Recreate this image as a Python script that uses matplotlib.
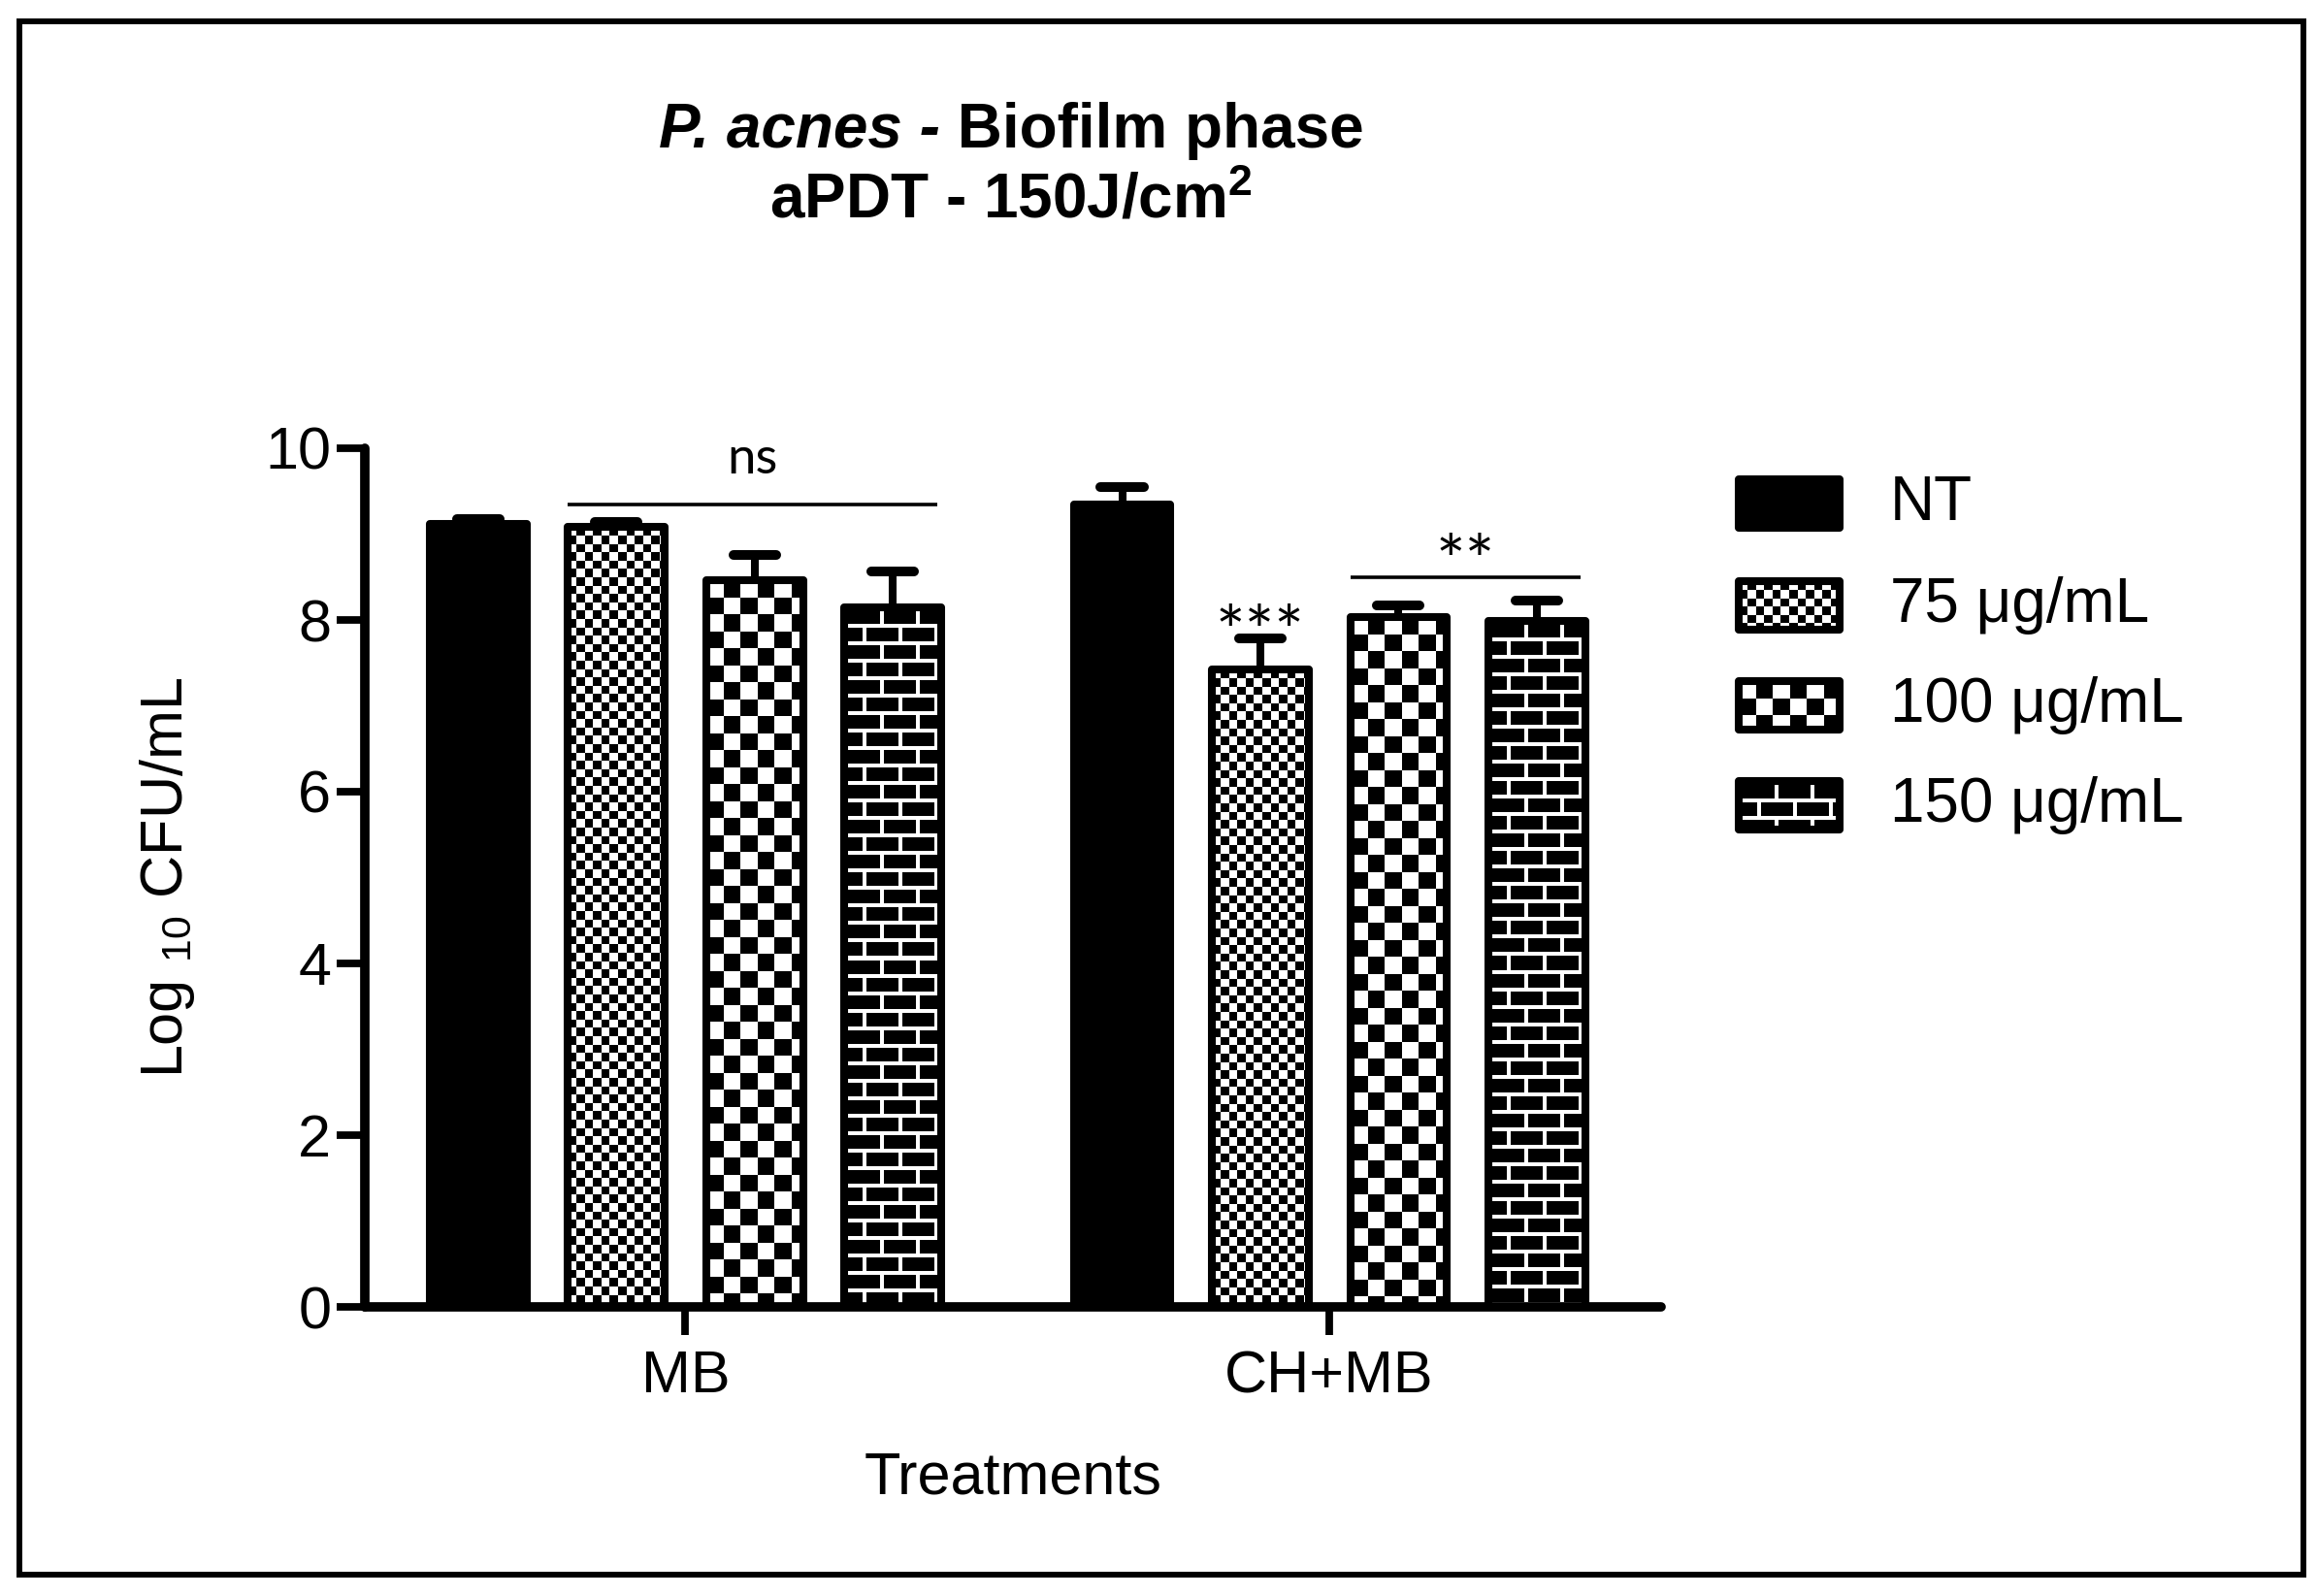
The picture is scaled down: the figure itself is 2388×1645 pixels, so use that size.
import numpy as np
import matplotlib
matplotlib.use("Agg")
import matplotlib.pyplot as plt
from matplotlib.patches import Rectangle
from matplotlib.textpath import TextPath
from matplotlib.font_manager import FontProperties

plt.rcParams['font.family'] = ['Liberation Sans', 'DejaVu Sans']
plt.rcParams['mathtext.fontset'] = 'custom'
plt.rcParams['mathtext.rm'] = 'Liberation Sans'
plt.rcParams['mathtext.it'] = 'Liberation Sans:italic'
plt.rcParams['mathtext.bf'] = 'Liberation Sans:bold'

# ---------------- data ----------------
groups = ["MB", "CH+MB"]
series = ["NT", "75 \u03bcg/mL", "100 \u03bcg/mL", "150 \u03bcg/mL"]
means_mb = [9.12, 9.08, 8.46, 8.15]
err_mb = [0.05, 0.06, 0.30, 0.42]
means_chmb = [9.35, 7.42, 8.03, 7.99]
err_chmb = [0.20, 0.37, 0.14, 0.24]
fills = ["solid", "fine", "coarse", "brick"]
yticks = [0, 2, 4, 6, 8, 10]
# significance brackets: (group, first bar, last bar, label, line y, label centre y)
sig_brackets = [(0, 1, 3, "ns", 9.34, 9.86), (1, 2, 3, "**", 8.50, 8.89)]
# single-bar marks: (group, bar, label, label centre y)
sig_single = [(1, 1, "***", 8.07)]

W, H = 2388, 1645
DPI = 100
fig = plt.figure(figsize=(W / DPI, H / DPI), dpi=DPI)

ax_l, ax_r = 376 / W, 1712 / W
ax_b, ax_t = (H - 1347) / H, (H - 462) / H
ax = fig.add_axes([ax_l, ax_b, ax_r - ax_l, ax_t - ax_b])
XLIM = (0, 9.38)
ax.set_xlim(*XLIM)
ax.set_ylim(0, 10)

group_centers = [2.32, 6.98]
bw = 0.7
px_x = (ax_r - ax_l) * W / (XLIM[1] - XLIM[0])
px_y = (ax_t - ax_b) * H / 10.0


def make_pattern(kind, h, w):
    i = np.arange(h)[:, None]
    j = np.arange(w)[None, :]
    if kind == "fine":
        c = 8.6
        white = ((np.floor(i / c) + np.floor(j / c)) % 2 == 0)
    elif kind == "coarse":
        c = 17.5
        white = ((np.floor(i / c) + np.floor(j / c)) % 2 == 0)
    else:  # brick
        rh, blen, m = 18, 37, 4
        row = i // rh
        off = (row % 2) * (blen // 2)
        white = np.broadcast_to((i % rh) < m, (h, w)) | (((j + off) % blen) < m)
    return np.where(white, 1.0, 0.0)


SIG_FONT = ["Lato", "DejaVu Sans"]


def baseline_for_centre(s, size, yc):
    tp = TextPath((0, 0), s, size=size, prop=FontProperties(family=SIG_FONT))
    ext = tp.get_extents()
    off_pts = (ext.y0 + ext.y1) / 2
    return yc - off_pts * DPI / 72 / px_y


EDGE_LW = 5.8
all_means = [means_mb, means_chmb]
all_errs = [err_mb, err_chmb]
bar_x = {}
for g, gc in enumerate(group_centers):
    for k in range(4):
        x = gc + (k - 1.5) * 1.0
        bar_x[(g, k)] = x
        v = all_means[g][k]
        e = all_errs[g][k]
        fc = "black" if fills[k] == "solid" else "none"
        bars = ax.bar([x], [v], width=bw, facecolor=fc, edgecolor="black",
                      linewidth=EDGE_LW, joinstyle="round", zorder=3)
        rect = bars[0]
        if fills[k] != "solid":
            arr = make_pattern(fills[k], int(round(v * px_y)), int(round(bw * px_x)))
            im = ax.imshow(arr, cmap="gray", vmin=0, vmax=1, interpolation="nearest",
                           extent=(x - bw / 2, x + bw / 2, 0, v), aspect="auto", zorder=2)
            im.set_clip_path(rect)
        # error bar (upper only)
        ax.vlines([x], [v], [v + e], colors="black", linewidth=5.8, zorder=4)
        cw = 0.31
        caps = ax.hlines([v + e], [x - cw / 2], [x + cw / 2], colors="black",
                         linewidth=7.2, zorder=4)
        caps.set_capstyle("round")

# significance annotations
for g, a, b, lab, ly, yc in sig_brackets:
    xa = bar_x[(g, a)] - bw / 2
    xb = bar_x[(g, b)] + bw / 2 - 0.03
    ax.plot([xa, xb], [ly, ly], color="black", lw=2.6, zorder=4, solid_capstyle="butt")
    fs = 38 if lab == "ns" else 52
    ax.text((xa + xb) / 2, baseline_for_centre(lab, fs, yc), lab, ha="center",
            va="baseline", fontsize=fs, family=SIG_FONT, zorder=5)
for g, k, lab, yc in sig_single:
    ax.text(bar_x[(g, k)], baseline_for_centre(lab, 52, yc), lab, ha="center",
            va="baseline", fontsize=52, family=SIG_FONT, zorder=5)

ax.set_xlim(*XLIM)
ax.set_ylim(0, 10)

# axes styling
for s in ["top", "right"]:
    ax.spines[s].set_visible(False)
for s in ["left", "bottom"]:
    ax.spines[s].set_linewidth(7)
    ax.spines[s].set_capstyle("round")
    ax.spines[s].set_zorder(6)
ax.set_yticks(yticks)
ax.set_yticklabels([str(t) for t in yticks])
ax.set_xticks(group_centers)
ax.set_xticklabels(groups)
ax.tick_params(axis="both", direction="out", length=21, width=5.6, labelsize=44)
ax.tick_params(axis="y", pad=4)
ax.tick_params(axis="x", pad=11)

ax.set_xlabel("Treatments", fontsize=44, labelpad=34)
ax.set_ylabel(r"Log $_{\mathrm{10}}$ CFU/mL", fontsize=44)
ax.yaxis.set_label_coords((203 - 376) / (1712 - 376), 0.5)

# title
r = fig.canvas.get_renderer()
y1 = 1 - 152 / H
y2 = 1 - 225 / H
cx = 1042
t1 = fig.text(0, y1, "P. acnes -", fontsize=46, fontweight="bold", fontstyle="italic",
              ha="left", va="baseline")
t2 = fig.text(0, y1, " Biofilm phase", fontsize=46, fontweight="bold",
              ha="left", va="baseline")
w1 = t1.get_window_extent(r).width
w2 = t2.get_window_extent(r).width
x0 = cx - (w1 + w2) / 2
t1.set_x(x0 / W)
t2.set_x((x0 + w1) / W)
fig.text(cx / W, y2, r"aPDT - 150J/cm$^{\mathbf{2}}$", fontsize=46, fontweight="bold",
         ha="center", va="baseline")

# legend (drawn in pixel coordinates)
lax = fig.add_axes([0, 0, 1, 1], zorder=5)
lax.axis("off")
key_x0, key_w, key_h = 1792, 104, 50
row_c = [519, 624, 727, 830]
for k, lab in enumerate(series):
    c = row_c[k]
    fc = "black" if fills[k] == "solid" else "none"
    kr = Rectangle((key_x0, c - key_h / 2), key_w, key_h, facecolor=fc, edgecolor="black",
                   linewidth=EDGE_LW, joinstyle="round", zorder=3)
    lax.add_patch(kr)
    if fills[k] != "solid":
        arr = make_pattern(fills[k], key_h, key_w)
        im = lax.imshow(arr, cmap="gray", vmin=0, vmax=1, interpolation="nearest",
                        extent=(key_x0, key_x0 + key_w, c + key_h / 2, c - key_h / 2),
                        aspect="auto", zorder=2)
        im.set_clip_path(kr)
    lax.text(1948, c, lab, fontsize=46, ha="left", va="center")
lax.set_xlim(0, W)
lax.set_ylim(H, 0)

# outer frame
fig.add_artist(Rectangle((20 / W, 22 / H), (2374 - 20) / W, (1623 - 22) / H,
                         transform=fig.transFigure, fill=False, edgecolor="black",
                         linewidth=4.3))

fig.savefig("out.png", dpi=DPI)
